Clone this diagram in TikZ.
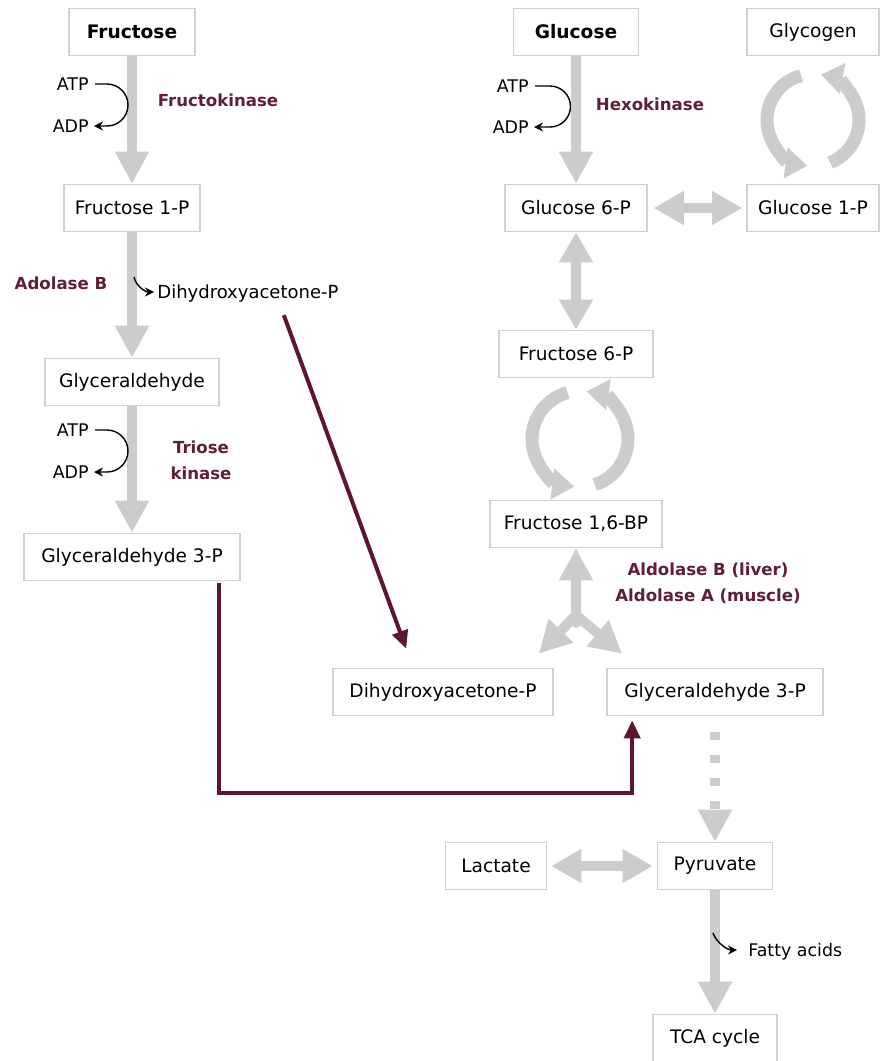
\documentclass[tikz,border=0pt]{standalone}
\usepackage{fontspec}
\setmainfont{DejaVu Sans}
\usetikzlibrary{arrows.meta, positioning, calc}
\definecolor{enzred}{RGB}{94,32,52}
\definecolor{linkred}{RGB}{92,24,42}
\definecolor{flowgray}{RGB}{204,204,204}
\definecolor{boxgray}{RGB}{208,208,208}
\tikzset{
  mbox/.style={
    rectangle, draw=boxgray, line width=0.8pt, fill=white,
    minimum height=23.5pt, inner sep=0pt,
    font=\fontsize{9.3}{11}\selectfont
  },
  mboxb/.style={mbox, font=\fontsize{9.3}{11}\selectfont\bfseries},
  enz/.style={font=\fontsize{8.3}{13}\selectfont\bfseries, text=enzred, align=center},
  cof/.style={font=\fontsize{8.7}{10}\selectfont, inner sep=0pt},
  garr/.style={draw=flowgray, line width=5pt, -{Triangle[length=16pt, width=16pt]}},
  gdarr/.style={garr, {Triangle[length=15pt, width=16pt]}-{Triangle[length=15pt, width=16pt]}},
  gdot/.style={garr, dash pattern=on 4pt off 7.5pt},
  cyc/.style={draw=flowgray, line width=6.5pt, -{Triangle[length=11pt, width=15pt]}},
  carr/.style={-{Stealth[length=4.5pt, width=4.5pt]}, line width=0.7pt},
  rarr/.style={draw=linkred, line width=2pt, -{Triangle[length=9pt, width=8pt]}}
}

\begin{document}
\begin{tikzpicture}[x=0.5pt, y=-0.5pt]
  \path[fill=white, use as bounding box] (0,0) rectangle (880,1061);

  %% ── Fructose branch ──────────────────────────────────────
  \node[mboxb, minimum width=63pt]  (fru)    at (132,32)  {Fructose};
  \node[mbox,  minimum width=68pt]  (fru1p)  at (132,208) {Fructose 1-P};
  \node[mbox,  minimum width=87pt]  (glyald) at (132,382) {Glyceraldehyde};
  \node[mbox,  minimum width=108pt] (g3pl)   at (132,557) {Glyceraldehyde 3-P};

  \foreach \a/\b in {fru/fru1p, fru1p/glyald, glyald/g3pl}
    \draw[garr] (\a) -- (\b);

  \node[cof, anchor=east] (atp1) at (89,84)  {ATP};
  \node[cof, anchor=east] (adp1) at (89,126) {ADP};
  \draw[carr] ($(atp1.east)+(6,0)$) -- ++(12,0)
      arc[start angle=-90, end angle=90, radius=21] -- ($(adp1.east)+(5,0)$);
  \node[enz] (fkin) at (218,100) {Fructokinase};

  \node[enz] (aldb) at (61,283) {Adolase B};
  \node[cof, anchor=west, font=\fontsize{9}{10}\selectfont] (dhap1) at (157,294) {Dihydroxyacetone-P};
  \draw[carr] ($(dhap1.west)+(-23,-17)$) .. controls +(2,9) and +(-9,0) .. ($(dhap1.west)+(-3,-2)$);

  \node[cof, anchor=east] (atp2) at (89,430) {ATP};
  \node[cof, anchor=east] (adp2) at (89,472) {ADP};
  \draw[carr] ($(atp2.east)+(6,0)$) -- ++(12,0)
      arc[start angle=-90, end angle=90, radius=21] -- ($(adp2.east)+(5,0)$);
  \node[enz] (tkin) at (201,460) {Triose\\kinase};

  %% ── Glucose / glycolysis ─────────────────────────────────
  \node[mboxb, minimum width=62.5pt] (glc)      at (576,32)  {Glucose};
  \node[mbox,  minimum width=66pt]   (glycogen) at (813,32)  {Glycogen};
  \node[mbox,  minimum width=71pt]   (g6p)      at (576,208) {Glucose 6-P};
  \node[mbox,  minimum width=66pt]   (g1p)      at (813,208) {Glucose 1-P};
  \node[mbox,  minimum width=77pt]   (f6p)      at (576,354) {Fructose 6-P};
  \node[mbox,  minimum width=86pt]   (f16bp)    at (576,524) {Fructose 1,6-BP};
  \node[mbox,  minimum width=110pt]  (dhap2)    at (443,692) {Dihydroxyacetone-P};
  \node[mbox,  minimum width=108pt]  (g3pr)     at (715,692) {Glyceraldehyde 3-P};
  \node[mbox,  minimum width=50.5pt] (lac)      at (496,866) {Lactate};
  \node[mbox,  minimum width=57.5pt] (pyr)      at (715,866) {Pyruvate};
  \node[mbox,  minimum width=62pt]   (tca)      at (715,1038) {TCA cycle};

  \node[cof, anchor=east] (atp3) at (529,86)  {ATP};
  \node[cof, anchor=east] (adp3) at (529,127) {ADP};
  \draw[carr] ($(atp3.east)+(6,0)$) -- ++(15,0)
      arc[start angle=-90, end angle=90, radius=20.5] -- ($(adp3.east)+(5,0)$);
  \node[enz] (hkin) at (650,104) {Hexokinase};

  \draw[garr] (glc) -- (g6p);
  \draw[gdarr, shorten <=3pt, shorten >=2pt] (g6p) -- (g1p);
  \draw[gdarr] (g6p) -- (f6p);

  %% cycles
  \coordinate (gcyc) at ($(glycogen.south)!0.5!(g1p.north)$);
  \draw[cyc] ($(gcyc)+(255:46)$) arc[start angle=255, end angle=97, radius=46];
  \draw[cyc] ($(gcyc)+(68:46)$)  arc[start angle=68,  end angle=-80, radius=46];

  \coordinate (fcyc) at ($(f6p.south)!0.5!(f16bp.north)+(4,0)$);
  \draw[cyc] ($(fcyc)+(255:48)$) arc[start angle=255, end angle=97, radius=48];
  \draw[cyc] ($(fcyc)+(72:48)$)  arc[start angle=72,  end angle=-82, radius=48];

  %% aldolase fork
  \coordinate (fork) at (576,615);
  \draw[garr, line cap=round] ($(fork)+(0,8)$) -- (f16bp);
  \draw[garr, line cap=round] (fork) -- ($(dhap2.north east)+(-15,-14)$);
  \draw[garr, line cap=round] (fork) -- ($(g3pr.north west)+(16,-14)$);
  \node[enz] (aldo) at (708,583) {Aldolase B (liver)\\Aldolase A (muscle)};

  \draw[gdot, shorten <=8pt] (g3pr) -- (pyr);
  \draw[gdarr, shorten <=2pt, shorten >=2pt] (lac) -- (pyr);
  \draw[garr] (pyr) -- (tca);

  \node[cof, anchor=west] (fatty) at (748,952) {Fatty acids};
  \draw[carr] ($(fatty.west)+(-35,-19)$) .. controls +(3,9) and +(-10,0) .. ($(fatty.west)+(-11,-2)$);

  %% links from fructose branch
  \draw[rarr] ($(dhap1.south east)+(-55,12)$) -- ($(dhap2.north west)+(74,-19)$);
  \draw[rarr] ($(g3pl.south east)+(-22,2)$) -- ++(0,210) -| ($(g3pr.south west)+(26,4)$);

\end{tikzpicture}
\end{document}
